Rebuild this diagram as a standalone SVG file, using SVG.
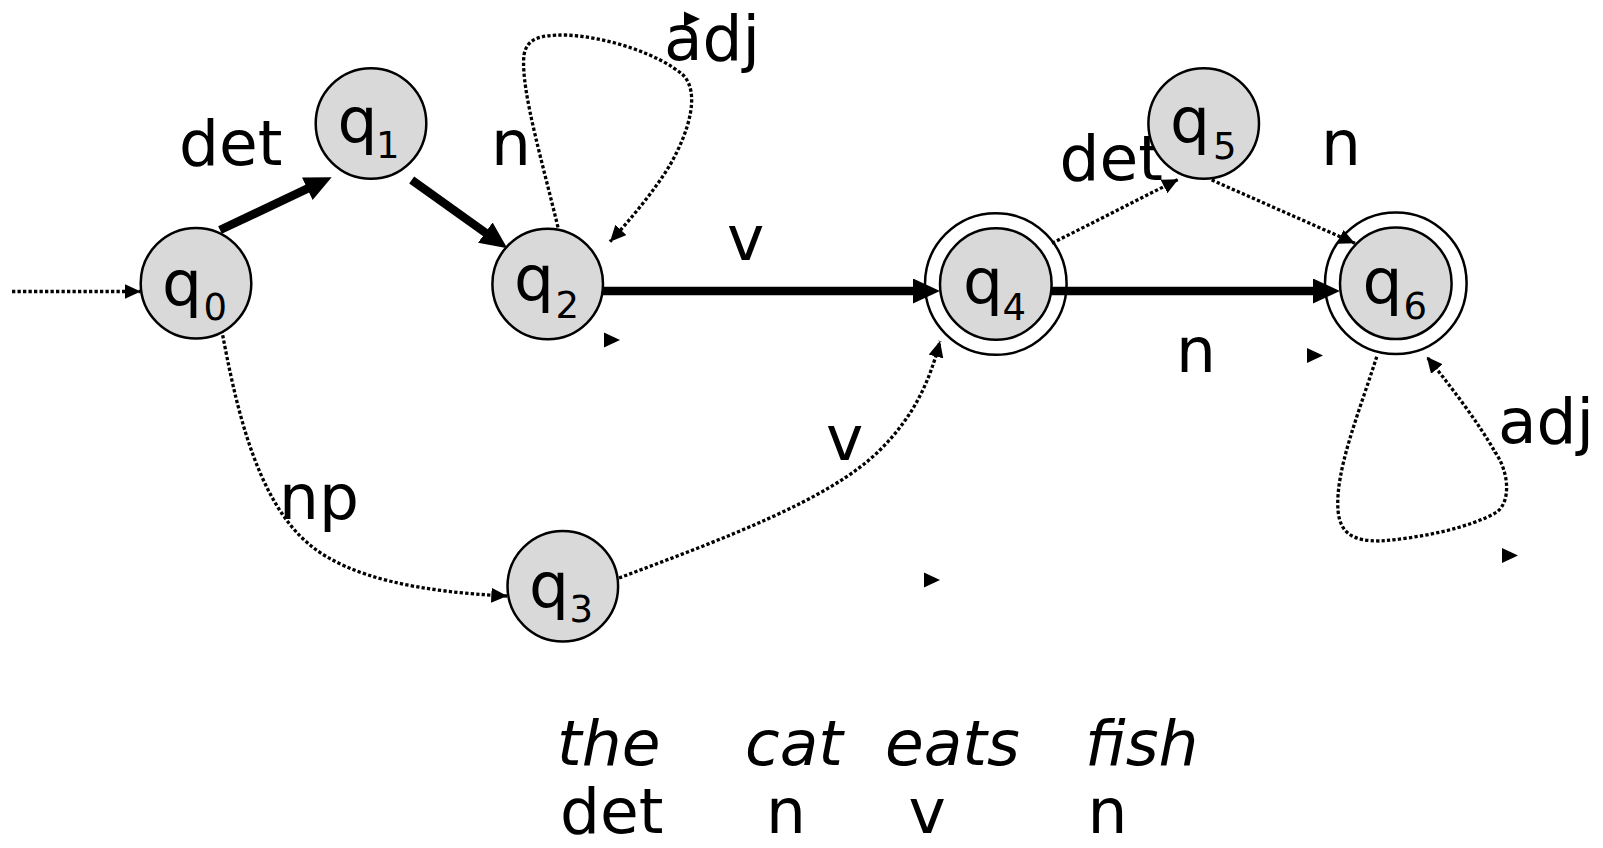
<svg xmlns="http://www.w3.org/2000/svg" xmlns:xlink="http://www.w3.org/1999/xlink" width="1603" height="848" viewBox="0 0 1603 848">
  <style>
    .node { fill: #d9d9d9; stroke: #000; stroke-width: 2.5; }
    .ring { fill: none; stroke: #000; stroke-width: 2.5; }
    .q { font-family: "DejaVu Sans", sans-serif; font-size: 63px; fill: #000; }
    .sub { font-size: 37px; }
    .lbl { font-family: "DejaVu Sans", sans-serif; font-size: 63px; fill: #000; }
    .it { font-style: italic; }
    .thick { fill: none; stroke: #000; stroke-width: 8.5; marker-end: url(#ah-thick); }
    .dot { fill: none; stroke: #000; stroke-width: 3.3; stroke-dasharray: 3.3 2.2; marker-end: url(#ah-thin); }
  </style>
  <defs>
    <marker id="ah-thick" markerUnits="userSpaceOnUse" markerWidth="28" markerHeight="26" refX="6" refY="12.5" orient="auto">
      <path d="M0,0 L27,12.5 L0,25 z" fill="#000"/>
    </marker>
    <marker id="ah-thin" markerUnits="userSpaceOnUse" markerWidth="17" markerHeight="16" refX="16" refY="7.5" orient="auto">
      <path d="M0,0 L16,7.5 L0,15 z" fill="#000"/>
    </marker>
    <path id="stray" d="M-16,-7.5 L0,0 L-16,7.5 z" fill="#000"/>
  </defs>

  <g id="connectors">
    <path class="dot" d="M12,291.5 L140.7,291.5"/>
    <path class="thick" d="M220,230 L312.7,186.2"/>
    <path class="thick" d="M411.7,180 L490.2,236.1"/>
    <path class="thick" d="M603,291 L919,291"/>
    <path class="thick" d="M1051.7,291 L1319,291"/>
    <path class="dot" d="M561.7,243.3 C545,170 520,90 524,55 C527,38 540,35 565,35 C610,37 660,55 683,75 C700,92 690,130 670,165 C655,190 630,220 610,241.7"/>
    <path class="dot" d="M1052,243.3 L1178.3,179.3"/>
    <path class="dot" d="M1211.7,180 L1355,243.3"/>
    <path class="dot" d="M1376.7,356.7 C1360,410 1335,470 1338,510 C1340,535 1355,541 1380,541 C1420,538 1470,528 1497,512 C1512,500 1508,470 1495,452 C1480,425 1450,385 1426.7,356.7"/>
    <path class="dot" d="M221.7,330 C235,400 255,500 310,545 C350,578 420,592 507.3,596"/>
    <path class="dot" d="M619,578 C720,540 830,500 880,450 C915,415 930,380 940,341"/>
    <use xlink:href="#stray" transform="translate(220.7,324)"/>
    <use xlink:href="#stray" transform="translate(700,19)"/>
    <use xlink:href="#stray" transform="translate(620,340)"/>
    <use xlink:href="#stray" transform="translate(1323,355.5)"/>
    <use xlink:href="#stray" transform="translate(1518,555.5)"/>
    <use xlink:href="#stray" transform="translate(940,580)"/>
  </g>

  <g id="edge-labels">
    <text class="lbl" x="179" y="165">det</text>
    <text class="lbl" x="491" y="165">n</text>
    <text class="lbl" x="664" y="60">adj</text>
    <text class="lbl" x="727" y="260">v</text>
    <text class="lbl" x="1059.5" y="180">det</text>
    <text class="lbl" x="1321" y="165">n</text>
    <text class="lbl" x="1176" y="371.7">n</text>
    <text class="lbl" x="1498" y="443">adj</text>
    <text class="lbl" x="279" y="519">np</text>
    <text class="lbl" x="826" y="460">v</text>
  </g>

  <g id="q0">
    <circle class="node" cx="196" cy="283.3" r="55.3"/>
    <text class="q"><tspan x="162" y="305">q</tspan><tspan class="sub" x="203.6" y="320">0</tspan></text>
  </g>
  <g id="q1">
    <circle class="node" cx="371" cy="123.5" r="55.3"/>
    <text class="q"><tspan x="337.5" y="142">q</tspan><tspan class="sub" x="376" y="158">1</tspan></text>
  </g>
  <g id="q2">
    <circle class="node" cx="547.7" cy="284" r="55.3"/>
    <text class="q"><tspan x="514" y="300">q</tspan><tspan class="sub" x="555.6" y="318">2</tspan></text>
  </g>
  <g id="q3">
    <circle class="node" cx="562.8" cy="586.2" r="55.3"/>
    <text class="q"><tspan x="529" y="607">q</tspan><tspan class="sub" x="569.5" y="622">3</tspan></text>
  </g>
  <g id="q4">
    <circle class="ring" cx="995.8" cy="284" r="70.8"/>
    <circle class="node" cx="995.8" cy="284" r="55.8"/>
    <text class="q"><tspan x="963" y="303">q</tspan><tspan class="sub" x="1002.5" y="320">4</tspan></text>
  </g>
  <g id="q5">
    <circle class="node" cx="1203.7" cy="123.5" r="55.3"/>
    <text class="q"><tspan x="1170" y="142">q</tspan><tspan class="sub" x="1213" y="159">5</tspan></text>
  </g>
  <g id="q6">
    <circle class="ring" cx="1395.8" cy="283.3" r="70.8"/>
    <circle class="node" cx="1395.8" cy="283.3" r="55.8"/>
    <text class="q"><tspan x="1362.5" y="303">q</tspan><tspan class="sub" x="1403.5" y="319">6</tspan></text>
  </g>

  <g id="sentence">
    <text class="lbl it" x="557" y="765">the</text>
    <text class="lbl it" x="745" y="765">cat</text>
    <text class="lbl it" x="885" y="765">eats</text>
    <text class="lbl it" x="1085" y="765">fish</text>
    <text class="lbl" x="560" y="833">det</text>
    <text class="lbl" x="766" y="833">n</text>
    <text class="lbl" x="908.5" y="833">v</text>
    <text class="lbl" x="1087.5" y="833">n</text>
  </g>
</svg>
